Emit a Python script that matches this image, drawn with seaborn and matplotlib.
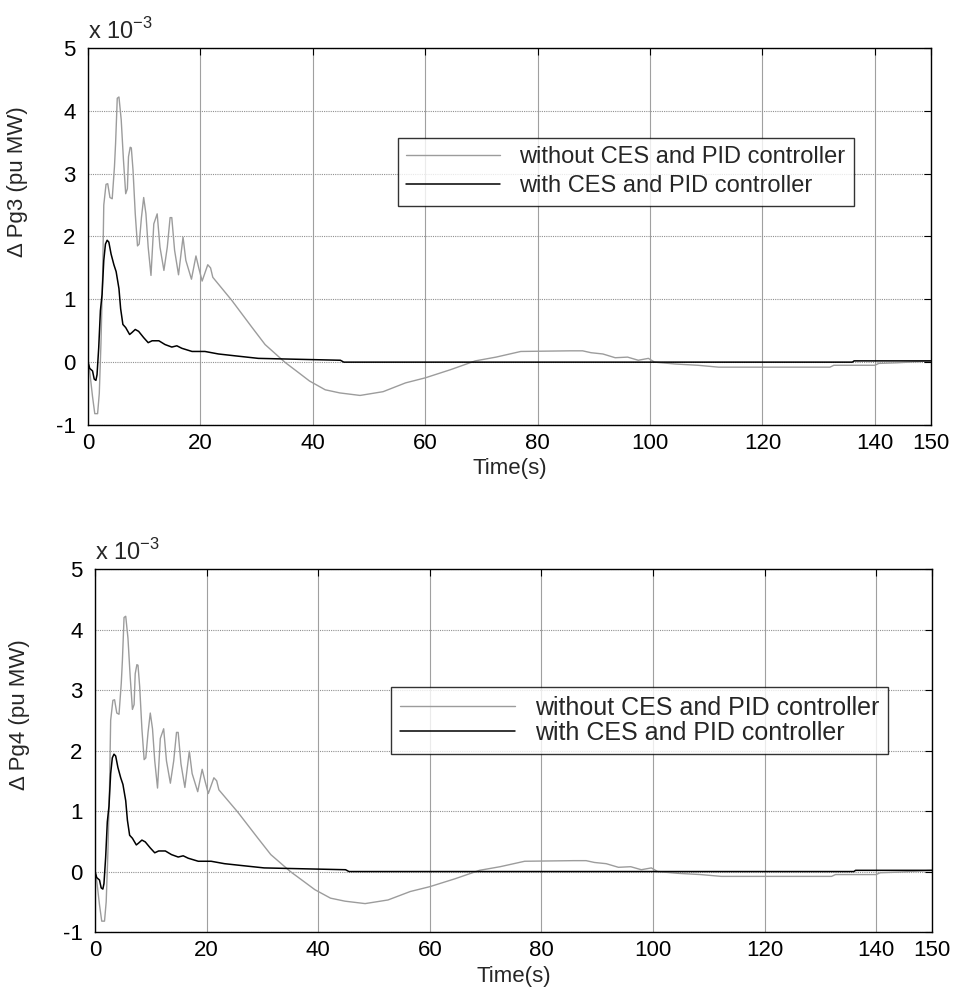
import numpy as np
import pandas as pd
import matplotlib
matplotlib.use('Agg')
import matplotlib.pyplot as plt
import seaborn as sns

# deviation of generator power (x 10^-3 pu MW)
t_without = [0, 0.3, 0.8, 1.2, 1.7, 2.0, 2.3, 2.6, 2.8, 3.2, 3.5, 3.9, 4.3, 4.7, 4.9,
             5.2, 5.5, 5.9, 6.3, 6.7, 7.0, 7.2, 7.5, 7.7, 8.0, 8.4, 8.8, 9.1, 9.5, 9.9,
             10.3, 10.7, 11.2, 11.7, 12.3, 12.8, 13.5, 14.1, 14.6, 14.9, 15.4, 16.1,
             16.9, 17.4, 18.4, 19.2, 19.7, 20.3, 21.3, 21.8, 22.2, 25.6, 29.2, 31.5,
             35.0, 37.5, 39.4, 42.2, 44.8, 48.4, 52.5, 56.5, 60.0, 64.5, 68.9, 72.6,
             77.0, 85.8, 88.0, 89.5, 91.6, 93.8, 96.0, 97.9, 99.7, 100.8, 104.5, 108.5,
             112.2, 132.0, 132.7, 140.0, 140.7, 144.0, 148.0, 150.0]
v_without = [0, -0.15, -0.55, -0.82, -0.82, -0.5, 0.3, 1.4, 2.5, 2.83, 2.84, 2.62, 2.6,
             3.11, 3.48, 4.2, 4.22, 3.86, 3.22, 2.68, 2.76, 3.27, 3.42, 3.41, 3.06, 2.36,
             1.85, 1.88, 2.3, 2.62, 2.36, 1.83, 1.38, 2.2, 2.36, 1.83, 1.46, 1.83, 2.3,
             2.3, 1.78, 1.39, 1.99, 1.62, 1.32, 1.69, 1.5, 1.29, 1.55, 1.5, 1.35, 0.98,
             0.55, 0.28, 0.0, -0.17, -0.3, -0.44, -0.49, -0.53, -0.47, -0.33, -0.25,
             -0.12, 0.02, 0.08, 0.17, 0.18, 0.18, 0.15, 0.13, 0.07, 0.08, 0.03, 0.06,
             0.0, -0.03, -0.05, -0.08, -0.08, -0.05, -0.05, -0.02, -0.01, 0.01, 0.02]

t_with = [0, 0.3, 0.8, 1.1, 1.4, 1.6, 1.9, 2.2, 2.5, 2.8, 3.1, 3.4, 3.7, 4.1, 4.6, 5.0,
          5.5, 5.8, 6.2, 6.7, 7.4, 7.8, 8.4, 9.0, 9.9, 10.7, 11.4, 12.6, 13.7, 14.9,
          15.8, 16.7, 18.5, 20.8, 23.2, 26.2, 30.3, 35.1, 44.9, 45.5, 136.0, 136.3, 150.0]
v_with = [0, -0.1, -0.14, -0.27, -0.29, -0.2, 0.23, 0.82, 1.08, 1.62, 1.88, 1.94, 1.91,
          1.72, 1.55, 1.44, 1.17, 0.85, 0.6, 0.55, 0.44, 0.47, 0.52, 0.49, 0.39, 0.31,
          0.34, 0.34, 0.28, 0.24, 0.26, 0.22, 0.17, 0.17, 0.13, 0.10, 0.06, 0.05, 0.03,
          0.0, 0.0, 0.02, 0.02]

x_ticks = [0, 20, 40, 60, 80, 100, 120, 140, 150]
y_ticks = [-1, 0, 1, 2, 3, 4, 5]
labels = ['without CES and PID controller', 'with CES and PID controller']
ylabels = ['\u0394 Pg3 (pu MW)', '\u0394 Pg4 (pu MW)']

sns.set_style('white')
plt.rcParams['font.family'] = ['Liberation Sans', 'DejaVu Sans']
plt.rcParams['axes.unicode_minus'] = False
plt.rcParams['mathtext.fontset'] = 'custom'
plt.rcParams['mathtext.rm'] = 'Liberation Sans'

fig = plt.figure(figsize=(9.58, 9.89), dpi=100)
ax1 = fig.add_axes([0.0919, 0.5703, 0.880, 0.3812])
ax2 = fig.add_axes([0.0992, 0.0576, 0.8737, 0.367])

# per-panel tweaks: legend anchor, legend font, ylabel position
panels = [
    dict(ax=ax1, ylab=ylabels[0], lpos=(0.6376, 0.761), lfs=17, lsp=0.3, hl=4.0,
         ylc=(-0.071, 0.645)),
    dict(ax=ax2, ylab=ylabels[1], lpos=(0.651, 0.675), lfs=18, lsp=0.05, hl=4.6,
         ylc=(-0.078, 0.60)),
]

for p in panels:
    ax = p['ax']
    ax.set_axisbelow(True)
    ax.grid(axis='x', color='#a0a0a0', linestyle='-', linewidth=0.8)
    ax.grid(axis='y', color='#909090', linestyle=(0, (1, 1)), linewidth=0.8)
    sns.lineplot(x=t_without, y=v_without, ax=ax, color='#9c9c9c', linewidth=1.0,
                 label=labels[0], sort=False, estimator=None)
    sns.lineplot(x=t_with, y=v_with, ax=ax, color='black', linewidth=1.1,
                 label=labels[1], sort=False, estimator=None)
    ax.set_xlim(0, 150)
    ax.set_ylim(-1, 5)
    ax.set_xticks(x_ticks)
    ax.set_yticks(y_ticks)
    ax.tick_params(direction='in', length=5, width=0.8, labelsize=16,
                   top=True, right=True, colors='black')
    ax.tick_params(axis='y', pad=9)
    ax.tick_params(axis='x', pad=6)
    for s in ax.spines.values():
        s.set_color('black')
        s.set_linewidth(1.0)
    ax.set_xlabel('Time(s)', fontsize=16, labelpad=3)
    ax.set_ylabel(p['ylab'], fontsize=16)
    ax.yaxis.set_label_coords(*p['ylc'])
    ax.text(0.0, 1.012, r'x 10$^{-3}$', transform=ax.transAxes,
            ha='left', va='bottom', fontsize=17)
    leg = ax.legend(loc='upper center', bbox_to_anchor=p['lpos'], fontsize=p['lfs'],
                    frameon=True, fancybox=False, edgecolor='black', borderaxespad=0,
                    handlelength=p['hl'], borderpad=0.35, labelspacing=p['lsp'])
    leg.get_frame().set_linewidth(1.0)

fig.savefig('out.png', dpi=100, facecolor='white')
